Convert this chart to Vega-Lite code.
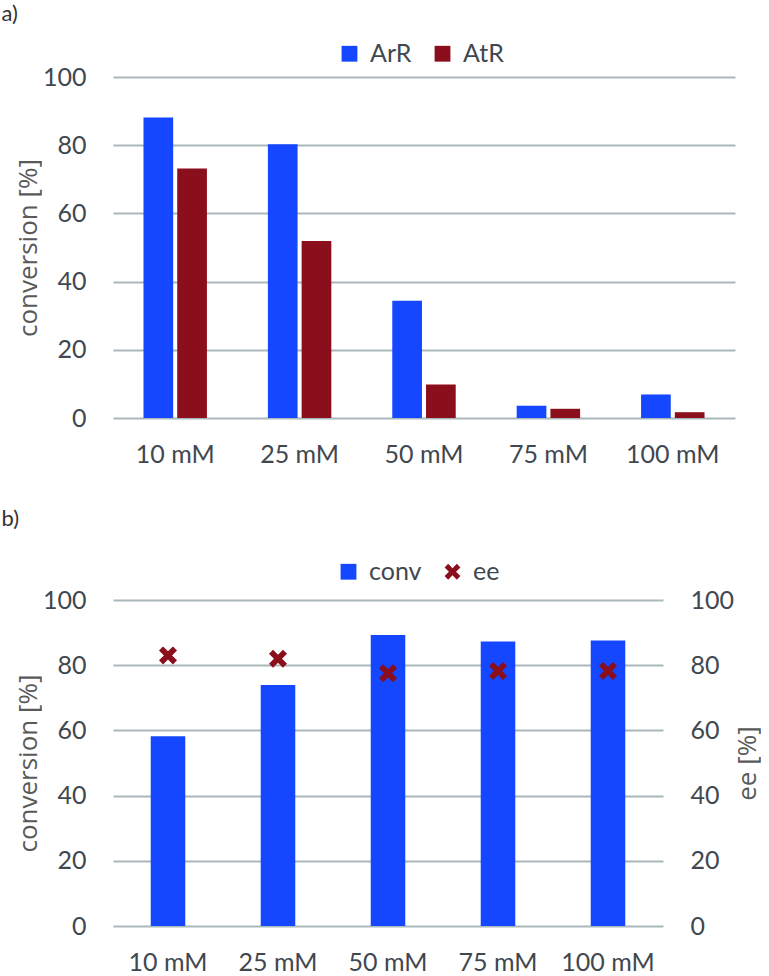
{
  "$schema": "https://vega.github.io/schema/vega-lite/v6.json",
  "background": "white",
  "padding": {"left": 1, "top": 3, "right": 0, "bottom": 0},
  "spacing": 41,
  "datasets": {
    "panelA": [
      {"conc": "10 mM", "enzyme": "ArR", "conversion": 88.1},
      {"conc": "10 mM", "enzyme": "AtR", "conversion": 73.2},
      {"conc": "25 mM", "enzyme": "ArR", "conversion": 80.3},
      {"conc": "25 mM", "enzyme": "AtR", "conversion": 51.9},
      {"conc": "50 mM", "enzyme": "ArR", "conversion": 34.4},
      {"conc": "50 mM", "enzyme": "AtR", "conversion": 9.8},
      {"conc": "75 mM", "enzyme": "ArR", "conversion": 3.6},
      {"conc": "75 mM", "enzyme": "AtR", "conversion": 2.7},
      {"conc": "100 mM", "enzyme": "ArR", "conversion": 6.9},
      {"conc": "100 mM", "enzyme": "AtR", "conversion": 1.7}
    ],
    "panelB": [
      {"conc": "10 mM", "series": "conv", "value": 58.2},
      {"conc": "25 mM", "series": "conv", "value": 73.9},
      {"conc": "50 mM", "series": "conv", "value": 89.3},
      {"conc": "75 mM", "series": "conv", "value": 87.3},
      {"conc": "100 mM", "series": "conv", "value": 87.6},
      {"conc": "10 mM", "series": "ee", "value": 83.0},
      {"conc": "25 mM", "series": "ee", "value": 82.0},
      {"conc": "50 mM", "series": "ee", "value": 77.5},
      {"conc": "75 mM", "series": "ee", "value": 78.2},
      {"conc": "100 mM", "series": "ee", "value": 78.2}
    ]
  },
  "vconcat": [
    {
      "title": {"text": "a)", "anchor": "start", "frame": "bounds", "dx": -14, "offset": 15},
      "data": {"name": "panelA"},
      "width": 622,
      "height": 341,
      "mark": "bar",
      "encoding": {
        "x": {
          "field": "conc",
          "type": "nominal",
          "sort": ["10 mM", "25 mM", "50 mM", "75 mM", "100 mM"],
          "scale": {"paddingInner": 0.49, "paddingOuter": 0.245},
          "axis": {"title": null}
        },
        "xOffset": {
          "field": "enzyme",
          "type": "nominal",
          "sort": ["ArR", "AtR"],
          "scale": {"paddingInner": 0.12, "paddingOuter": 0}
        },
        "y": {
          "field": "conversion",
          "type": "quantitative",
          "scale": {"domain": [0, 100]},
          "axis": {"title": "conversion [%]", "values": [0, 20, 40, 60, 80, 100], "grid": true}
        },
        "color": {
          "field": "enzyme",
          "type": "nominal",
          "scale": {"domain": ["ArR", "AtR"], "range": ["#1447FF", "#8A0E1B"]},
          "legend": {"orient": "none", "direction": "horizontal", "legendX": 224, "legendY": -36, "title": null}
        }
      }
    },
    {
      "title": {"text": "b)", "anchor": "start", "frame": "bounds", "dx": -14, "offset": 28},
      "data": {"name": "panelB"},
      "width": 550,
      "height": 326,
      "layer": [
        {
          "transform": [{"filter": "datum.series == 'conv'"}],
          "mark": "bar",
          "encoding": {
            "x": {
              "field": "conc",
              "type": "nominal",
              "sort": ["10 mM", "25 mM", "50 mM", "75 mM", "100 mM"],
              "scale": {"paddingInner": 0.686, "paddingOuter": 0.343},
              "axis": {"title": null}
            },
            "y": {
              "field": "value",
              "type": "quantitative",
              "scale": {"domain": [0, 100]},
              "axis": {"title": "conversion [%]", "values": [0, 20, 40, 60, 80, 100], "grid": true}
            },
            "color": {
              "field": "series",
              "type": "nominal",
              "scale": {"domain": ["conv", "ee"], "range": ["#1447FF", "#8A0E1B"]},
              "legend": {"orient": "none", "direction": "horizontal", "legendX": 223, "legendY": -41, "title": null}
            }
          }
        },
        {
          "transform": [{"filter": "datum.series == 'ee'"}],
          "mark": {"type": "point", "filled": true, "opacity": 1, "size": 324, "strokeWidth": 0},
          "encoding": {
            "x": {
              "field": "conc",
              "type": "nominal",
              "sort": ["10 mM", "25 mM", "50 mM", "75 mM", "100 mM"]
            },
            "y": {
              "field": "value",
              "type": "quantitative",
              "scale": {"domain": [0, 100]},
              "axis": {"title": "ee [%]", "orient": "right", "values": [0, 20, 40, 60, 80, 100], "grid": false, "titleAngle": 270, "titleBaseline": "top", "titlePadding": 1, "labelAlign": "left"}
            },
            "color": {"field": "series", "type": "nominal"},
            "shape": {
              "field": "series",
              "type": "nominal",
              "scale": {"domain": ["conv", "ee"], "range": ["square", "M-1,-0.55L-0.55,-1L0,-0.45L0.55,-1L1,-0.55L0.45,0L1,0.55L0.55,1L0,0.45L-0.55,1L-1,0.55L-0.45,0Z"]},
              "legend": {"orient": "none", "direction": "horizontal", "legendX": 223, "legendY": -41, "title": null}
            }
          }
        }
      ],
      "resolve": {"scale": {"y": "independent"}}
    }
  ],
  "resolve": {
    "scale": {"color": "independent", "shape": "independent"},
    "legend": {"color": "independent", "shape": "independent"}
  },
  "config": {
    "view": {"stroke": null},
    "font": "Lato",
    "title": {"font": "Lato", "fontSize": 22, "fontWeight": "normal", "color": "#333333"},
    "axis": {
      "labelFont": "Lato",
      "labelFontSize": 25,
      "labelColor": "#3F4850",
      "titleFont": "Open Sans",
      "titleFontSize": 26,
      "titleFontWeight": "normal",
      "titleColor": "#595959",
      "ticks": false,
      "domain": false,
      "gridColor": "#A9B8BA",
      "gridWidth": 2,
      "gridOpacity": 1
    },
    "axisX": {"labelAngle": 0, "labelPadding": 24, "grid": false},
    "axisY": {"labelPadding": 27, "titlePadding": 1},
    "legend": {
      "labelFont": "Lato",
      "labelFontSize": 25,
      "labelColor": "#3F4850",
      "symbolSize": 250,
      "symbolType": "square",
      "symbolStrokeWidth": 0,
      "labelOffset": 8,
      "columnPadding": 18
    }
  }
}
